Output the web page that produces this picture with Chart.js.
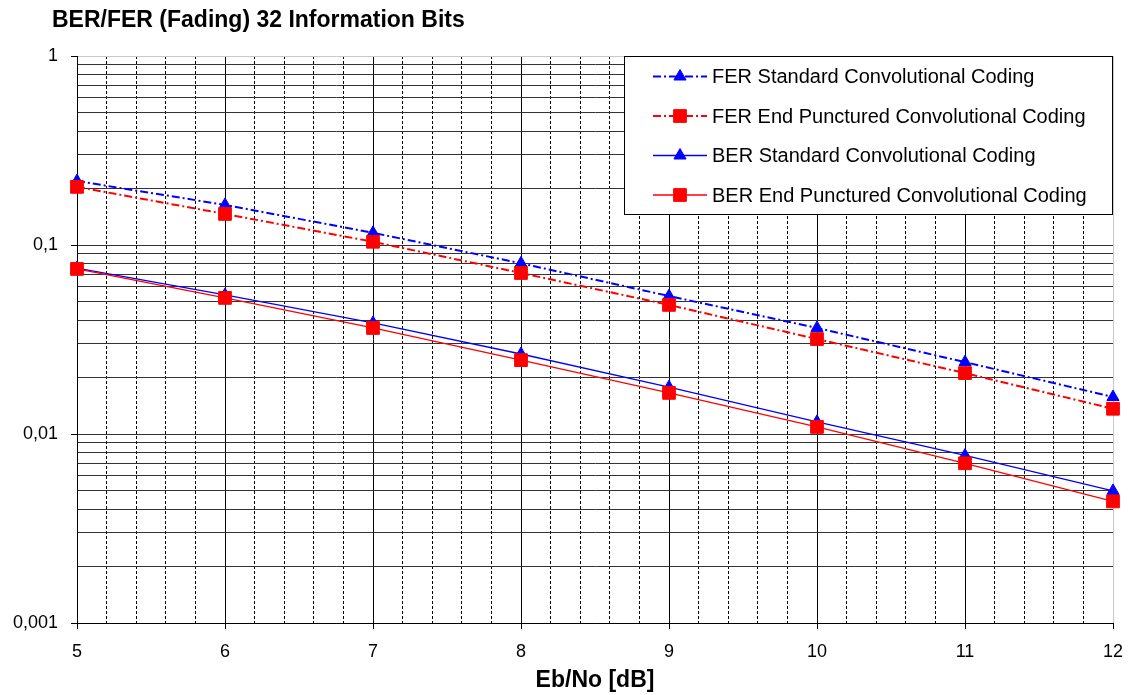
<!DOCTYPE html>
<html>
<head>
<meta charset="utf-8">
<script src="https://cdn.jsdelivr.net/npm/chart.js@4.4.1/dist/chart.umd.min.js"></script>
<style>
  html, body { margin: 0; padding: 0; background: #fff; }
  #wrap { width: 1129px; height: 695px; }
</style>
</head>
<body>
<div id="wrap"><canvas id="grafico" width="1129" height="695"></canvas></div>
<script>
// Eb/No [dB]
const ebNo = [5, 6, 7, 8, 9, 10, 11, 12];

// valores
const ferStandard = [0.218, 0.163, 0.116, 0.080, 0.0537, 0.0364, 0.0240, 0.0157];
const ferPunctured = [0.203, 0.146, 0.104, 0.0711, 0.0482, 0.0318, 0.0210, 0.0136];
const berStandard = [0.0755, 0.0544, 0.0387, 0.0265, 0.0177, 0.0116, 0.0077, 0.0050];
const berPunctured = [0.0747, 0.0525, 0.0364, 0.0246, 0.0165, 0.0109, 0.0070, 0.0044];

const seriesLabels = [
    'FER Standard Convolutional Coding',
    'FER End Punctured Convolutional Coding',
    'BER Standard Convolutional Coding',
    'BER End Punctured Convolutional Coding'
];

const tituloGrafico = 'BER/FER (Fading) 32 Information Bits';
const tituloEixoX = 'Eb/No [dB]';

// eixo Y logaritmico
const yDecades = [0.001, 0.01, 0.1, 1];
const yDecadeLabels = ['0,001', '0,01', '0,1', '1'];
const xMinorStep = 0.2;

const FONTE = "'Liberation Sans', Arial, sans-serif";
Chart.defaults.font.family = FONTE;
Chart.defaults.color = '#000';

// linhas de grade (1..9 por decada no Y, passo 0.2 no X)
const yGrid = [];
for (let d = 0; d < yDecades.length - 1; d++) {
    for (let m = 1; m <= 9; m++) {
        yGrid.push(Number((m * yDecades[d]).toPrecision(3)));
    }
}
yGrid.push(yDecades[yDecades.length - 1]);

const xGrid = [];
for (let v = ebNo[0]; v <= ebNo[ebNo.length - 1] + 1e-9; v += xMinorStep) {
    xGrid.push(Math.round(v * 10) / 10);
}

const ehInteiro = v => Math.abs(v - Math.round(v)) < 1e-6;
const ehDecada = v => yDecades.some(d => Math.abs(d - v) / d < 1e-6);

function pontos(valores) {
    return ebNo.map((x, i) => ({ x: x, y: valores[i] }));
}

const dashFer = [8, 3, 2, 3];

// titulo alinhado a esquerda, fora da area do grafico
const tituloPlugin = {
    id: 'tituloEsquerda',
    afterDraw(chart) {
        const c = chart.ctx;
        c.save();
        c.fillStyle = '#000';
        c.font = 'bold 23px ' + FONTE;
        c.textAlign = 'left';
        c.textBaseline = 'middle';
        c.fillText(tituloGrafico, 52, 21);
        c.restore();
    }
};

// legenda desenhada em caixa branca, como no original
const legendaPlugin = {
    id: 'legendaCaixa',
    afterDraw(chart) {
        const { ctx, chartArea } = chart;
        const largura = 488;
        const altura = 158;
        const x0 = chartArea.right - largura - 1;
        const y0 = chartArea.top;

        ctx.save();
        ctx.fillStyle = '#fff';
        ctx.fillRect(x0, y0, largura, altura);
        ctx.strokeStyle = '#000';
        ctx.lineWidth = 1;
        ctx.strokeRect(x0 + 0.5, y0 + 0.5, largura, altura);

        chart.data.datasets.forEach((ds, i) => {
            const y = y0 + 20.5 + i * 39.5;
            const xa = x0 + 29;
            const xb = x0 + 83;

            ctx.save();
            ctx.strokeStyle = ds.borderColor;
            ctx.lineWidth = ds.borderWidth;
            ctx.setLineDash(ds.borderDash || []);
            ctx.beginPath();
            ctx.moveTo(xa, y);
            ctx.lineTo(xb, y);
            ctx.stroke();
            ctx.restore();

            ctx.save();
            ctx.fillStyle = ds.pointBackgroundColor;
            ctx.strokeStyle = ds.pointBorderColor;
            Chart.helpers.drawPoint(ctx, {
                pointStyle: ds.pointStyle,
                radius: ds.pointRadius,
                rotation: 0,
                borderWidth: 1
            }, (xa + xb) / 2, y);
            ctx.restore();

            ctx.fillStyle = '#000';
            ctx.font = '20px ' + FONTE;
            ctx.textAlign = 'left';
            ctx.textBaseline = 'middle';
            ctx.fillText(ds.label, x0 + 88, y + 1);
        });
        ctx.restore();
    }
};

const ctx = document.getElementById('grafico').getContext('2d');

new Chart(ctx, {
    type: 'line',
    data: {
        datasets: [
            {
                label: seriesLabels[0],
                data: pontos(ferStandard),
                borderColor: '#0000ff',
                borderWidth: 2,
                borderDash: dashFer,
                pointStyle: 'triangle',
                pointRadius: 7,
                pointBackgroundColor: '#0000ff',
                pointBorderColor: '#0000ff',
                pointBorderWidth: 1,
                order: 4
            },
            {
                label: seriesLabels[1],
                data: pontos(ferPunctured),
                borderColor: '#ff0000',
                borderWidth: 2,
                borderDash: dashFer,
                pointStyle: 'rect',
                pointRadius: 9,
                pointBackgroundColor: '#ff0000',
                pointBorderColor: '#ff0000',
                pointBorderWidth: 1,
                order: 2
            },
            {
                label: seriesLabels[2],
                data: pontos(berStandard),
                borderColor: '#0000ff',
                borderWidth: 1.3,
                pointStyle: 'triangle',
                pointRadius: 7,
                pointBackgroundColor: '#0000ff',
                pointBorderColor: '#0000ff',
                pointBorderWidth: 1,
                order: 3
            },
            {
                label: seriesLabels[3],
                data: pontos(berPunctured),
                borderColor: '#ff0000',
                borderWidth: 1.3,
                pointStyle: 'rect',
                pointRadius: 9,
                pointBackgroundColor: '#ff0000',
                pointBorderColor: '#ff0000',
                pointBorderWidth: 1,
                order: 1
            }
        ]
    },
    options: {
        responsive: false,
        animation: false,
        devicePixelRatio: 1,
        clip: false,
        elements: {
            line: { tension: 0, fill: false }
        },
        layout: {
            padding: { left: 0, right: 16, top: 56, bottom: 0 }
        },
        scales: {
            x: {
                type: 'linear',
                min: ebNo[0],
                max: ebNo[ebNo.length - 1],
                afterBuildTicks: escala => {
                    escala.ticks = xGrid.map(v => ({ value: v }));
                },
                afterFit: escala => {
                    escala.height = 72;
                    escala.paddingLeft = 0;
                    escala.paddingRight = 0;
                },
                ticks: {
                    autoSkip: false,
                    maxRotation: 0,
                    padding: 12,
                    font: { size: 18 },
                    callback: v => ehInteiro(v) ? String(Math.round(v)) : ''
                },
                grid: {
                    color: c => (c.tick && Math.abs(c.tick.value - 12) < 1e-6) ? '#c8c8c8' : '#000',
                    lineWidth: 1,
                    tickLength: 6,
                    tickColor: c => (c.tick && ehInteiro(c.tick.value)) ? '#000' : 'rgba(0,0,0,0)'
                },
                border: {
                    color: '#000',
                    width: 1,
                    dash: c => (c.tick && !ehInteiro(c.tick.value)) ? [3, 2] : []
                },
                title: {
                    display: true,
                    text: tituloEixoX,
                    font: { size: 23, weight: 'bold' },
                    padding: { top: 0, bottom: 1 }
                }
            },
            y: {
                type: 'logarithmic',
                min: yDecades[0],
                max: yDecades[yDecades.length - 1],
                afterBuildTicks: escala => {
                    escala.ticks = yGrid.map(v => ({ value: v }));
                },
                afterFit: escala => {
                    escala.width = 77;
                },
                ticks: {
                    autoSkip: false,
                    padding: 13,
                    font: { size: 18 },
                    callback: v => {
                        const i = yDecades.findIndex(d => Math.abs(d - v) / d < 1e-6);
                        return i >= 0 ? yDecadeLabels[i] : '';
                    }
                },
                grid: {
                    color: c => (c.tick && c.tick.value === 1) ? '#c8c8c8' : '#333',
                    lineWidth: 1,
                    tickLength: 6,
                    tickColor: c => (c.tick && ehDecada(c.tick.value)) ? '#000' : 'rgba(0,0,0,0)'
                },
                border: { color: '#000', width: 1 }
            }
        },
        plugins: {
            legend: { display: false },
            tooltip: { enabled: false },
            title: { display: false }
        }
    },
    plugins: [tituloPlugin, legendaPlugin]
});
</script>
</body>
</html>
